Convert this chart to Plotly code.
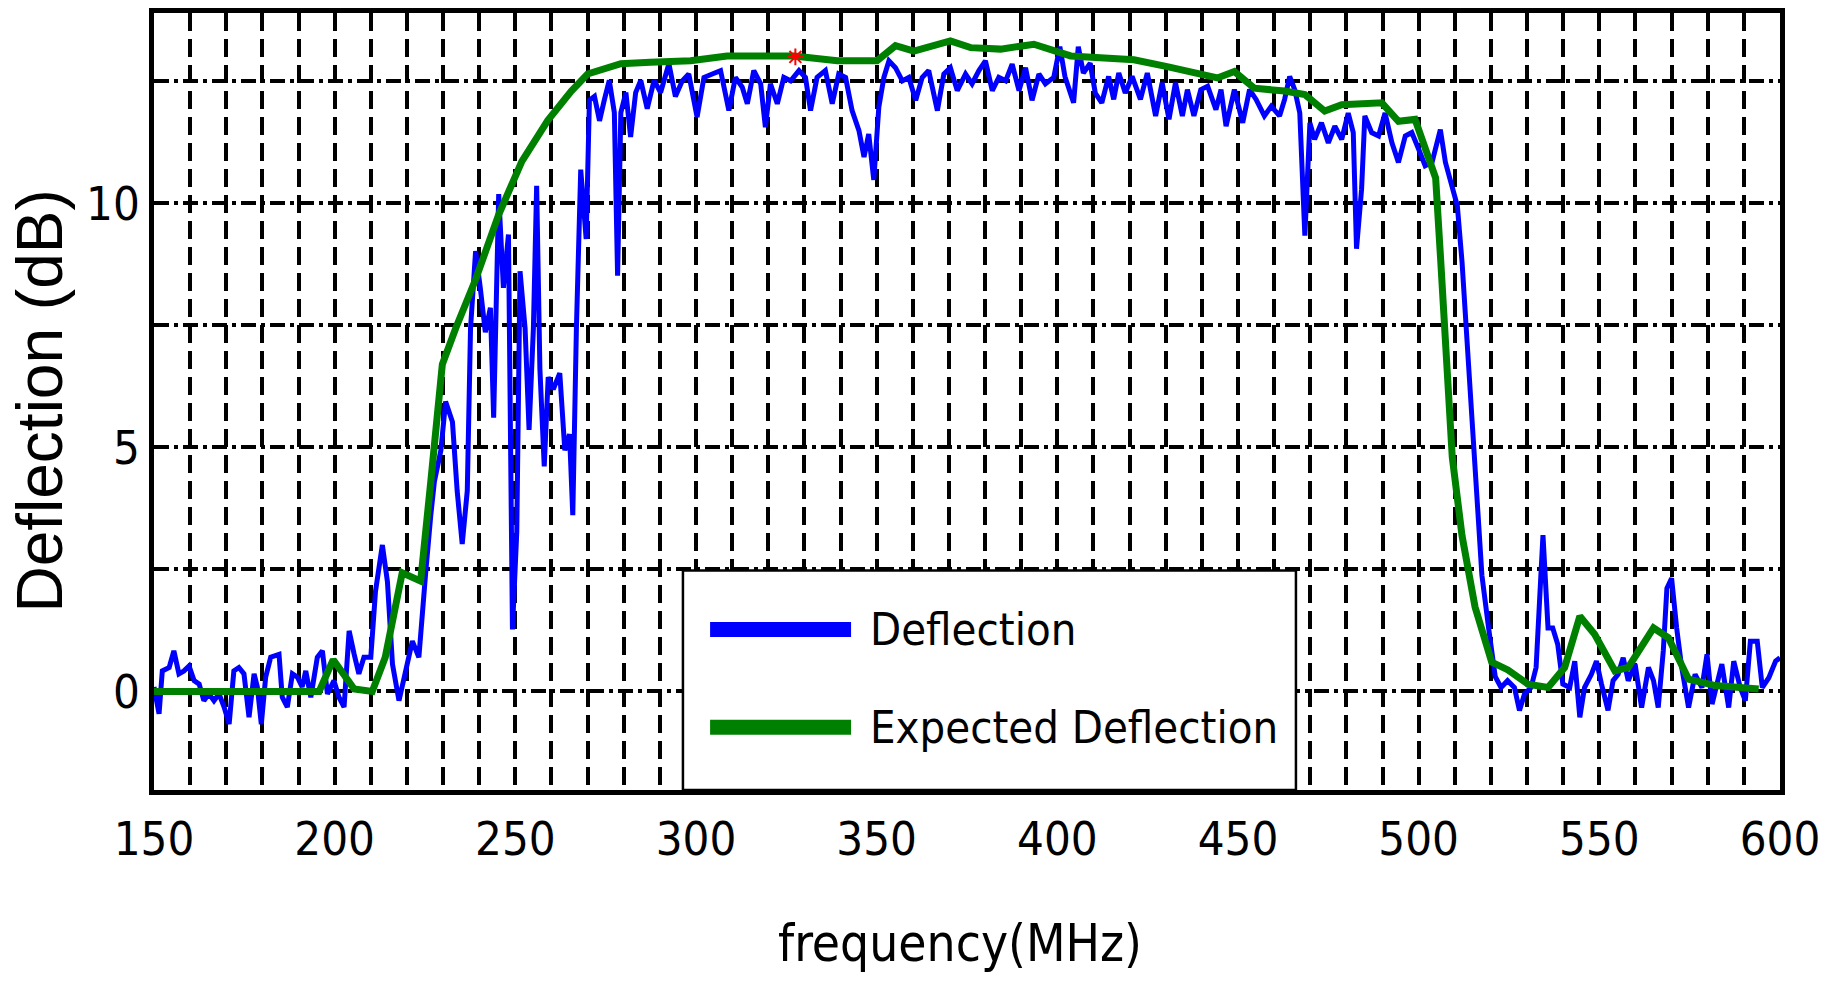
import plotly.graph_objects as go

# ---------------- data ----------------
freq_meas = [150.0, 151.4, 152.3, 154.2, 155.5, 156.9, 158.3, 159.7, 161.1, 162.5, 163.8, 165.2, 166.6, 168.0,
             169.4, 170.8, 172.1, 173.5, 174.9, 176.3, 177.7, 178.6, 179.7, 180.9, 182.3, 184.6, 185.5, 186.9,
             188.3, 189.7, 191.0, 192.0, 193.4, 195.2, 196.6, 198.0, 199.8, 201.2, 202.6, 204.0, 205.4, 206.7,
             208.1, 210.0, 211.3, 213.2, 214.6, 216.0, 217.8, 219.6, 221.5, 223.3, 224.7, 225.2, 226.6, 227.6,
             229.4, 230.7, 232.6, 233.9, 235.3, 236.7, 237.6, 239.0, 240.3, 241.7, 243.1, 244.0, 245.4, 246.7,
             248.1, 249.2, 250.4, 251.3, 252.7, 253.8, 255.0, 255.9, 256.8, 258.0, 259.1, 260.5, 262.3, 263.7,
             265.0, 265.9, 266.9, 268.1, 269.6, 270.5, 271.9, 273.3, 274.6, 276.0, 277.4, 278.3, 279.2, 280.6,
             281.9, 283.3, 284.7, 286.5, 288.4, 290.2, 292.5, 294.3, 296.2, 298.0, 300.3, 302.2, 304.5, 306.8,
             309.1, 310.9, 312.8, 314.2, 316.0, 317.9, 319.2, 320.6, 322.5, 324.3, 326.2, 328.5, 330.3, 331.7,
             333.5, 335.8, 337.7, 339.5, 341.4, 343.2, 345.1, 346.5, 347.8, 349.2, 350.6, 352.0, 353.4, 355.2,
             357.1, 358.9, 360.8, 362.6, 364.4, 366.8, 368.6, 370.4, 372.3, 374.6, 376.4, 378.3, 380.1, 382.0,
             383.8, 385.7, 387.5, 389.4, 391.2, 393.0, 394.9, 396.7, 399.0, 400.7, 402.1, 404.5, 405.8, 407.2,
             409.1, 410.5, 412.3, 414.2, 415.6, 417.0, 418.8, 420.7, 423.0, 424.9, 427.2, 429.0, 430.9, 432.7,
             434.6, 436.0, 437.8, 439.7, 441.6, 443.9, 445.3, 446.7, 449.0, 451.3, 453.2, 455.0, 457.3, 459.2,
             461.5, 462.9, 464.3, 465.7, 467.1, 468.5, 469.9, 471.2, 473.1, 475.0, 476.8, 478.7, 480.5, 481.9,
             482.8, 484.2, 485.1, 487.0, 488.9, 490.7, 492.6, 494.4, 496.3, 498.1, 500.0, 501.8, 503.7, 506.0,
             507.4, 509.3, 510.7, 512.0, 513.4, 514.7, 516.1, 517.5, 519.3, 521.2, 522.8, 524.6, 526.5, 527.9,
             529.3, 531.1, 532.5, 534.4, 535.8, 537.1, 538.5, 539.9, 541.8, 543.2, 544.6, 545.9, 547.8, 549.2,
             550.6, 552.4, 553.8, 555.2, 556.6, 558.0, 559.9, 561.7, 563.6, 565.0, 566.3, 567.7, 568.7, 570.0,
             571.4, 572.8, 574.7, 576.5, 578.4, 579.8, 581.2, 582.6, 583.9, 585.8, 587.2, 589.0, 590.4, 591.8,
             593.7, 595.1, 596.9, 598.8, 600.0]
deflection = [0.09, -0.46, 0.42, 0.49, 0.83, 0.36, 0.42, 0.52, 0.22, 0.15, -0.19, -0.05, -0.19, -0.05,
              -0.32, -0.67, 0.42, 0.49, 0.36, -0.53, 0.36, 0.09, -0.67, 0.29, 0.70, 0.76, -0.12, -0.32,
              0.36, 0.29, 0.09, 0.42, -0.12, 0.70, 0.83, -0.05, 0.22, -0.12, -0.32, 1.24, 0.76, 0.36,
              0.70, 0.70, 2.05, 3.00, 2.25, 0.56, -0.19, 0.36, 1.03, 0.70, 2.25, 2.44, 3.61, 4.30,
              4.94, 5.94, 5.52, 4.11, 3.02, 4.11, 7.44, 9.02, 8.27, 7.36, 7.86, 5.61, 10.19, 8.27,
              9.36, 1.27, 3.27, 8.61, 7.44, 5.36, 7.44, 10.36, 6.61, 4.61, 6.44, 6.19, 6.52, 4.94,
              5.27, 3.61, 7.44, 10.69, 9.27, 12.11, 12.19, 11.69, 12.11, 12.52, 11.86, 8.52, 11.86, 12.27,
              11.36, 12.27, 12.52, 11.94, 12.52, 12.27, 12.86, 12.19, 12.51, 12.65, 11.77, 12.58, 12.65, 12.72,
              11.90, 12.58, 12.38, 12.04, 12.72, 12.45, 11.56, 12.45, 12.04, 12.58, 12.51, 12.72, 12.58, 11.90,
              12.58, 12.72, 12.04, 12.65, 12.58, 11.90, 11.49, 10.95, 11.42, 10.48, 11.97, 12.58, 12.92, 12.78,
              12.51, 12.58, 12.11, 12.58, 12.72, 11.90, 12.65, 12.78, 12.31, 12.65, 12.45, 12.72, 12.92, 12.31,
              12.58, 12.51, 12.85, 12.31, 12.78, 12.11, 12.65, 12.45, 12.58, 13.21, 12.60, 12.06, 13.21, 12.67,
              12.87, 12.26, 12.06, 12.60, 12.13, 12.67, 12.26, 12.60, 12.13, 12.67, 11.79, 12.47, 11.72, 12.47,
              11.79, 12.33, 11.79, 12.33, 12.40, 11.92, 12.33, 11.58, 12.33, 11.65, 12.33, 12.13, 11.79, 11.99,
              11.79, 12.13, 12.60, 12.33, 11.85, 9.34, 11.65, 11.31, 11.65, 11.24, 11.58, 11.31, 11.85, 11.45,
              9.07, 10.29, 11.79, 11.45, 11.38, 11.85, 11.24, 10.84, 11.38, 11.45, 11.11, 10.77, 10.84, 11.51,
              10.84, 10.29, 9.95, 8.80, 7.22, 5.60, 3.99, 2.38, 1.33, 0.30, 0.08, 0.22, 0.08, -0.39,
              -0.05, 0.08, 0.49, 3.20, 1.30, 1.30, 0.96, 0.15, 0.08, 0.62, -0.53, 0.08, 0.35, 0.62,
              0.15, -0.39, 0.22, 0.35, 0.69, 0.22, 0.56, -0.33, 0.49, 0.22, -0.33, 0.83, 2.11, 2.32,
              1.30, 0.49, -0.33, 0.35, 0.08, 0.76, -0.26, 0.22, 0.56, -0.33, 0.62, 0.08, -0.19, 1.03,
              1.03, 0.08, 0.28, 0.62, 0.69]

freq_expected = [150.0, 195.7, 199.6, 205.4, 210.4, 214.0, 218.7, 223.8, 226.6, 229.8, 233.5, 239.0, 245.4,
                 251.8, 259.0, 265.5, 270.0, 279.2, 287.4, 298.5, 308.6, 327.1, 339.1, 350.1, 355.2, 360.3,
                 370.4, 376.0, 384.3, 393.5, 403.7, 410.0, 421.2, 430.4, 439.7, 444.3, 449.0, 454.5, 462.9,
                 468.5, 474.0, 478.7, 489.8, 494.4, 499.0, 504.7, 506.1, 507.5, 509.3, 512.0, 515.6, 520.2,
                 524.7, 530.2, 535.8, 540.4, 544.6, 548.7, 554.3, 558.0, 565.0, 569.1, 574.7, 582.1, 594.1]
expected_deflection = [0.0, 0.0, 0.65, 0.05, 0.0, 0.70, 2.43, 2.26, 4.30, 6.70, 7.44, 8.44, 9.77,
                       10.86, 11.70, 12.30, 12.65, 12.86, 12.89, 12.92, 13.02, 13.02, 12.92, 12.92, 13.23, 13.12,
                       13.33, 13.19, 13.16, 13.26, 13.02, 13.00, 12.94, 12.80, 12.67, 12.57, 12.70, 12.36, 12.30,
                       12.23, 11.89, 12.02, 12.06, 11.68, 11.72, 10.52, 8.83, 6.81, 4.80, 3.19, 1.73, 0.60,
                       0.44, 0.15, 0.08, 0.49, 1.54, 1.17, 0.42, 0.49, 1.30, 1.10, 0.25, 0.12, 0.05]

marker_freq = [327.5]
marker_value = [13.0]

x_grid_vals = list(range(150, 601, 10))
x_label_vals = [150, 200, 250, 300, 350, 400, 450, 500, 550, 600]
x_tick_text = [str(v) if v in x_label_vals else "" for v in x_grid_vals]
y_grid_vals = [0, 2.5, 5, 7.5, 10, 12.5]
y_tick_text = ["0", "", "5", "", "10", ""]

series_names = ["Deflection", "Expected Deflection"]
series_colors = ["#0000ff", "#008000"]

NARROW = "Liberation Sans Narrow, Arial Narrow, DejaVu Sans Condensed, Arial, sans-serif"
WIDE = "Liberation Sans, Arial, sans-serif"

fig = go.Figure()
fig.add_trace(go.Scatter(x=freq_meas, y=deflection, mode="lines", name=series_names[0],
                         line=dict(color=series_colors[0], width=5), showlegend=False))
fig.add_trace(go.Scatter(x=freq_expected, y=expected_deflection, mode="lines", name=series_names[1],
                         line=dict(color=series_colors[1], width=7), showlegend=False))
fig.add_trace(go.Scatter(x=marker_freq, y=marker_value, mode="markers", showlegend=False,
                         marker=dict(symbol="asterisk-open", size=14, color="#ff0000",
                                     line=dict(color="#ff0000", width=2))))

# legend drawn manually (box, long line samples, labels)
leg_x0, leg_x1, leg_y0, leg_y1 = 0.3253, 0.7023, 0.0, 0.2826
fig.add_shape(type="rect", xref="paper", yref="paper", x0=leg_x0, x1=leg_x1, y0=leg_y0, y1=leg_y1,
              fillcolor="white", line=dict(color="black", width=2.5), layer="above")
leg_rows = [0.2065, 0.0806]
for name, color, yy in zip(series_names, series_colors, leg_rows):
    fig.add_shape(type="line", xref="paper", yref="paper", x0=0.342, x1=0.4287, y0=yy, y1=yy,
                  line=dict(color=color, width=15), layer="above")
    fig.add_annotation(xref="paper", yref="paper", x=0.4391, y=yy, text=name, showarrow=False,
                       xanchor="left", yanchor="middle",
                       font=dict(family=NARROW, size=45, color="black"))

# axis titles
fig.add_annotation(xref="paper", yref="paper", x=0.4957, y=-0.198, text="frequency(MHz)", showarrow=False,
                   xanchor="center", yanchor="middle", font=dict(family=NARROW, size=51, color="black"))
fig.add_annotation(xref="paper", yref="paper", x=-0.0707, y=0.5, text="Deflection (dB)", showarrow=False,
                   textangle=-90, xanchor="center", yanchor="middle",
                   font=dict(family=WIDE, size=64, color="black"))

fig.update_xaxes(range=[150, 600], tickmode="array", tickvals=x_grid_vals, ticktext=x_tick_text,
                 showgrid=True, gridcolor="black", gridwidth=3.5, griddash="18px,8px",
                 showline=True, linecolor="black", linewidth=4.5, mirror=True,
                 ticks="", zeroline=False, ticklabelstandoff=4,
                 tickfont=dict(family=NARROW, size=47, color="black"))
fig.update_yaxes(range=[-2.02, 13.9], tickmode="array", tickvals=y_grid_vals, ticktext=y_tick_text,
                 showgrid=True, gridcolor="black", gridwidth=4, griddash="15px,5px,4px,5px",
                 showline=True, linecolor="black", linewidth=4.5, mirror=True,
                 ticks="", zeroline=False, ticklabelstandoff=0,
                 tickfont=dict(family=NARROW, size=47, color="black"))

fig.update_layout(width=1835, height=986, margin=dict(l=154, r=55, t=8, b=196),
                  paper_bgcolor="white", plot_bgcolor="white")

fig.write_html("out.html")
